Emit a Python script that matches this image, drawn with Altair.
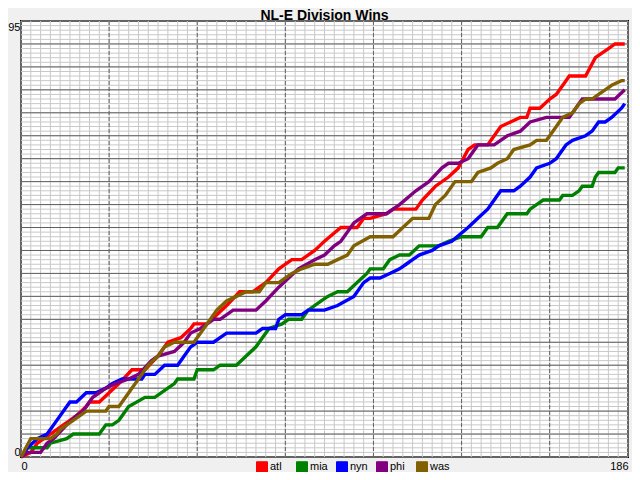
import altair as alt
import pandas as pd

title_text = "NL-E Division Wins"
teams = ["atl", "mia", "nyn", "phi", "was"]
colors = ["#ff0000", "#008000", "#0000ff", "#800080", "#806000"]

atl_days = [0, 3, 5, 9, 13, 15, 17, 20, 21, 24, 27, 30, 34, 38, 42, 45, 49, 52, 53, 57, 60, 63, 67, 71,
            75, 79, 83, 86, 90, 93, 98, 103, 105, 107, 112, 114, 121, 123, 127, 131, 134, 137, 139,
            143, 145, 147, 150, 153, 155, 156, 159, 162, 164, 167, 168, 173, 176, 178, 180, 182, 185]
atl_wins = [0, 1, 3, 5, 7, 8, 9, 11, 12, 12, 14, 16, 19, 19, 22, 25, 26, 28, 29, 29, 31, 33, 36, 36,
            38, 41, 43, 43, 45, 47, 50, 50, 52, 52, 53, 54, 54, 56, 59, 61, 63, 67, 68,
            68, 70, 72, 73, 74, 74, 76, 76, 78, 79, 82, 83, 83, 87, 88, 89, 90, 90]

mia_days = [0, 2, 8, 9, 14, 16, 20, 24, 26, 28, 30, 33, 38, 41, 45, 47, 48, 53, 54, 59, 61, 66, 69, 72,
            73, 76, 80, 82, 86, 88, 92, 94, 97, 100, 103, 106, 107, 111, 113, 116, 119, 122, 128, 131,
            135, 141, 143, 146, 149, 155, 156, 158, 160, 165, 166, 169, 171, 172, 175, 176, 177, 182,
            183, 185]
mia_wins = [0, 2, 2, 3, 4, 5, 5, 5, 7, 7, 8, 11, 13, 13, 15, 16, 17, 17, 19, 19, 20, 20, 22, 24,
            25, 28, 29, 30, 30, 32, 34, 35, 36, 36, 38, 40, 41, 41, 43, 44, 44, 46, 46, 47,
            48, 48, 50, 50, 53, 53, 54, 55, 56, 56, 57, 57, 58, 59, 59, 61, 62, 62,
            63, 63]

nyn_days = [0, 2, 5, 8, 10, 14, 15, 17, 20, 23, 26, 28, 31, 33, 37, 38, 41, 44, 48, 50, 52, 54, 59,
            61, 63, 72, 74, 78, 79, 81, 86, 88, 93, 97, 102, 105, 107, 110, 113, 116, 118, 120, 122,
            126, 128, 132, 137, 140, 143, 145, 147, 151, 153, 156, 158, 162, 164, 167, 169, 173, 175,
            177, 179, 181, 184, 185]
nyn_wins = [0, 2, 4, 5, 7, 11, 12, 12, 14, 14, 15, 16, 17, 17, 17, 18, 18, 20, 20, 22, 24, 25, 25,
            26, 27, 27, 28, 28, 30, 31, 31, 32, 32, 33, 35, 38, 39, 39, 40, 41, 42, 43, 44,
            45, 46, 47, 50, 52, 54, 56, 58, 58, 59, 61, 63, 64, 65, 68, 69, 70, 71,
            73, 73, 74, 76, 77]

phi_days = [0, 2, 6, 8, 10, 14, 17, 19, 22, 24, 26, 29, 33, 36, 40, 42, 47, 50, 52, 55, 59, 61, 65,
            72, 75, 79, 82, 85, 90, 93, 96, 98, 100, 102, 106, 112, 116, 121, 125, 129, 131, 134,
            137, 140, 145, 149, 153, 156, 161, 168, 170, 172, 182, 185]
phi_wins = [0, 1, 1, 3, 4, 7, 9, 10, 13, 14, 15, 16, 17, 18, 21, 22, 23, 25, 27, 28, 30, 30, 32,
            32, 34, 37, 39, 41, 43, 44, 46, 47, 49, 51, 53, 53, 55, 58, 60, 63, 64, 64,
            65, 68, 68, 70, 71, 73, 74, 74, 76, 78, 78, 80]

was_days = [0, 3, 9, 11, 12, 16, 20, 26, 27, 30, 33, 36, 39, 42, 44, 47, 53, 57, 60, 63, 66, 69, 73,
            75, 79, 83, 86, 90, 94, 97, 100, 102, 107, 114, 117, 120, 125, 127, 130, 133, 138, 140,
            144, 146, 149, 151, 156, 158, 161, 163, 166, 169, 171, 173, 175, 177, 179, 181, 184, 185]
was_wins = [0, 4, 4, 5, 6, 8, 10, 10, 11, 11, 14, 17, 20, 22, 24, 25, 25, 29, 32, 34, 35, 36, 36,
            38, 38, 40, 41, 42, 42, 43, 44, 46, 48, 48, 50, 52, 52, 55, 57, 60, 60, 62,
            63, 64, 65, 67, 68, 69, 69, 71, 74, 75, 77, 78, 78, 79, 80, 81, 82, 82]

x_minor = list(range(0, 187, 3))
x_major = [27, 54, 81, 108, 135, 162]
y_minor = list(range(0, 96))
y_major = [5, 10, 15, 20, 25, 30, 35, 40, 45, 50, 55, 60, 65, 70, 75, 80, 85, 90]
x_labels = [0, 186]
y_labels = [0, 95]

rows = []
for t, ds, ws in [("atl", atl_days, atl_wins), ("mia", mia_days, mia_wins),
                  ("nyn", nyn_days, nyn_wins), ("phi", phi_days, phi_wins),
                  ("was", was_days, was_wins)]:
    for d, w in zip(ds, ws):
        rows.append({"team": t, "day": d, "wins": w})
df = pd.DataFrame(rows)

FONT = "Liberation Sans"
xscale = alt.Scale(domain=[0, 186], nice=False, zero=False)
yscale = alt.Scale(domain=[0, 95], nice=False, zero=False)
xaxis = alt.Axis(values=x_labels, labelFlush=True, ticks=False, domain=False, grid=False,
                 title=None, labelFont=FONT, labelFontSize=11, labelColor="black", labelPadding=3)
yaxis = alt.Axis(values=y_labels, labelFlush=True, ticks=False, domain=False, grid=False,
                 title=None, labelFont=FONT, labelFontSize=11, labelColor="black", labelPadding=1)
team_scale = alt.Scale(domain=teams, range=colors)

minor_x = alt.Chart(pd.DataFrame({"day": x_minor})).mark_rule(color="#c8c8c8", strokeWidth=1).encode(
    x=alt.X("day:Q", scale=xscale, axis=xaxis))
minor_y = alt.Chart(pd.DataFrame({"wins": y_minor})).mark_rule(color="#c8c8c8", strokeWidth=1).encode(
    y=alt.Y("wins:Q", scale=yscale, axis=yaxis))
major_x = alt.Chart(pd.DataFrame({"day": x_major})).mark_rule(
    color="#606060", strokeWidth=1, strokeDash=[4, 2]).encode(
    x=alt.X("day:Q", scale=xscale, axis=xaxis))
major_y = alt.Chart(pd.DataFrame({"wins": y_major})).mark_rule(color="#606060", strokeWidth=1).encode(
    y=alt.Y("wins:Q", scale=yscale, axis=yaxis))

lines = alt.Chart(df).mark_line(strokeWidth=3.4, interpolate="linear").encode(
    x=alt.X("day:Q", scale=xscale, axis=xaxis),
    y=alt.Y("wins:Q", scale=yscale, axis=yaxis),
    color=alt.Color("team:N", scale=team_scale, legend=None),
)

legend_layer = alt.Chart(df).mark_point(shape="square", filled=True, size=0, opacity=1).encode(
    x=alt.X("day:Q", scale=xscale, axis=xaxis),
    y=alt.Y("wins:Q", scale=yscale, axis=yaxis),
    fill=alt.Fill(
        "team:N",
        scale=team_scale,
        legend=alt.Legend(
            orient="none", legendX=235, legendY=440, direction="horizontal", columns=5,
            title=None, symbolType="square", symbolSize=121, symbolStrokeWidth=1,
            symbolStrokeColor="black", symbolOpacity=1, labelFont=FONT, labelFontSize=11,
            labelColor="black", labelOffset=2, columnPadding=4, gridAlign="all", padding=0,
        ),
    ),
)

title_layer = alt.Chart(pd.DataFrame({"t": [title_text]})).mark_text(
    font=FONT, fontSize=14, fontWeight="bold", color="black", align="center",
    baseline="alphabetic", clip=False).encode(
    text="t:N", x=alt.value(303.5), y=alt.value(-1))

chart = alt.layer(minor_x, minor_y, major_x, major_y, legend_layer, lines, title_layer).properties(
    width=607,
    height=436,
    autosize=alt.AutoSizeParams(type="none"),
    padding={"left": 13, "top": 13, "right": 4, "bottom": 15},
    background="#f0f0f0",
).configure_view(fill="white", stroke="black", strokeWidth=2)

chart.save("out.html", embed_options={"renderer": "svg", "actions": False})
